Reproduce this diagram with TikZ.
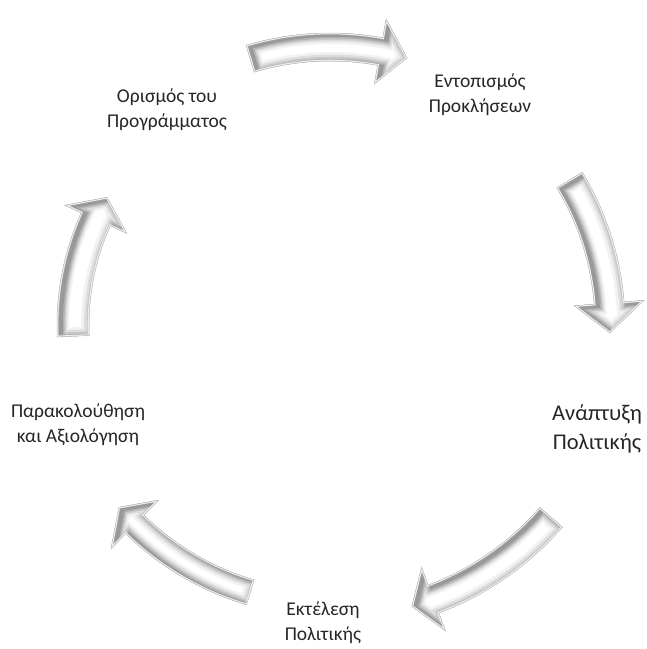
\documentclass[tikz,border=0pt]{standalone}
\usepackage{fontspec}
\setmainfont{Carlito}

% Outline of a curved block arrow around the origin:
% #1 radius, #2 tail angle, #3 head base angle, #4 tip angle,
% #5 half shaft width, #6 half head width
\newcommand{\cyclearrow}[6]{%
  (#2:{#1+#5}) arc[start angle=#2, end angle=#3, radius={#1+#5}]
  -- (#3:{#1+#6}) -- (#4:#1) -- (#3:{#1-#6}) -- (#3:{#1-#5})
  arc[start angle=#3, end angle=#2, radius={#1-#5}] -- cycle}

% Bevelled white arrow: white face, grey rim darker on the lower right
\newcommand{\bevelarrow}[6]{%
  \begin{scope}
    \clip \cyclearrow{#1}{#2}{#3}{#4}{#5}{#6};
    \fill[white] \cyclearrow{#1}{#2}{#3}{#4}{#5}{#6};
    \draw[rimA] \cyclearrow{#1}{#2}{#3}{#4}{#5}{#6};
    \draw[rimB] \cyclearrow{#1}{#2}{#3}{#4}{#5}{#6};
    \draw[rimC] \cyclearrow{#1}{#2}{#3}{#4}{#5}{#6};
    \draw[rimD] \cyclearrow{#1}{#2}{#3}{#4}{#5}{#6};
    \draw[rimE] \cyclearrow{#1}{#2}{#3}{#4}{#5}{#6};
    \draw[rimedge] \cyclearrow{#1}{#2}{#3}{#4}{#5}{#6};
  \end{scope}
  \draw[rimline] \cyclearrow{#1}{#2}{#3}{#4}{#5}{#6};
}

\begin{document}
\begin{tikzpicture}[x=1pt,y=-1pt,
  steplabel/.style={align=center, text=black!85, inner sep=0pt,
                    font=\fontsize{19.5}{25}\selectfont},
  biglabel/.style={steplabel, font=\fontsize{22.5}{29}\selectfont},
  rimA/.style={line width=20pt, gray!10, shift={(2,1)}},
  rimB/.style={line width=15pt, gray!26, shift={(2.5,1)}},
  rimC/.style={line width=11pt, gray!44, shift={(3,1.2)}},
  rimD/.style={line width=7.5pt, gray!62, shift={(3.5,1.5)}},
  rimE/.style={line width=4.5pt, gray!80, shift={(3.5,1.5)}},
  rimedge/.style={line width=2.6pt, gray!12},
  rimline/.style={line width=0.5pt, gray!50, line join=miter}]
\useasboundingbox (0,0) rectangle (647,649);

% cycle arrows around a common centre
\begin{scope}[shift={(330,325)}]
  \bevelarrow{278}{-106.7}{-79.6}{-73.9}{14}{33}
  \bevelarrow{280}{-31.2}{-4.5}{1.6}{15}{35}
  \bevelarrow{293}{41}{69.3}{73.8}{15}{34}
  \bevelarrow{279}{106.6}{134.4}{139.2}{13}{34}
  \bevelarrow{257}{177.5}{204.3}{209.8}{16}{34}
\end{scope}

% step labels
\node[steplabel] (define)  at (167,109.5) {Ορισμός του\\Προγράμματος};
\node[steplabel] (find)    at (480,95)    {Εντοπισμός\\Προκλήσεων};
\node[biglabel]  (develop) at (597,429)   {Ανάπτυξη\\Πολιτικής};
\node[steplabel] (execute) at (323,623)   {Εκτέλεση\\Πολιτικής};
\node[steplabel] (monitor) at (78,424.5)  {Παρακολούθηση\\και Αξιολόγηση};
\end{tikzpicture}
\end{document}
